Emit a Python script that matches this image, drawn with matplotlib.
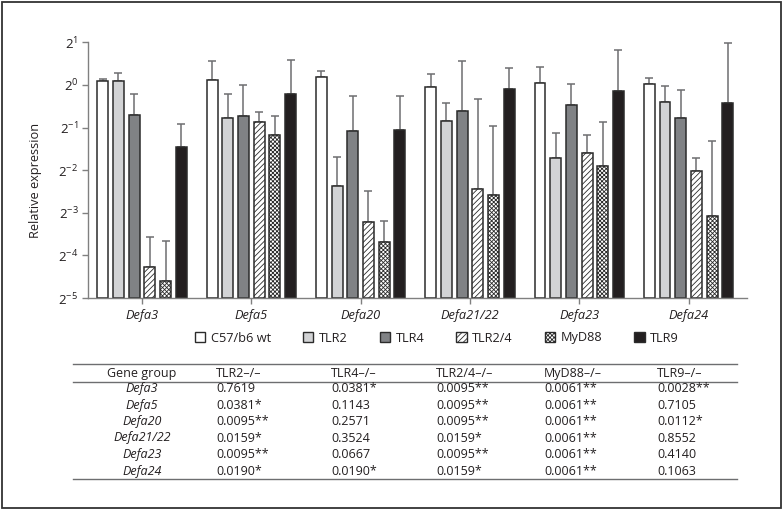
import numpy as np
import matplotlib
matplotlib.use("Agg")
import matplotlib.pyplot as plt
from matplotlib.patches import Rectangle
from matplotlib.lines import Line2D
from matplotlib.ticker import NullLocator

plt.rcParams["font.family"] = ["Open Sans", "DejaVu Sans"]
plt.rcParams["mathtext.fontset"] = "custom"
plt.rcParams["mathtext.rm"] = "Open Sans"
plt.rcParams["mathtext.it"] = "Open Sans:italic"
plt.rcParams["hatch.linewidth"] = 0.6

# data (relative expression)
genes = ["Defa3", "Defa5", "Defa20", "Defa21/22", "Defa23", "Defa24"]
strains = ["C57/b6 wt", "TLR2", "TLR4", "TLR2/4", "MyD88", "TLR9"]

wt_mean = [1.064, 1.083, 1.137, 0.966, 1.028, 1.007]
tlr2_mean = [1.064, 0.586, 0.193, 0.559, 0.306, 0.763]
tlr4_mean = [0.616, 0.607, 0.476, 0.651, 0.717, 0.586]
tlr24_mean = [0.0519, 0.543, 0.107, 0.184, 0.330, 0.247]
myd88_mean = [0.0415, 0.441, 0.078, 0.166, 0.266, 0.119]
tlr9_mean = [0.364, 0.865, 0.480, 0.933, 0.908, 0.742]

# top of the error bars
wt_upper = [1.094, 1.464, 1.257, 1.197, 1.329, 1.125]
tlr2_upper = [1.206, 0.858, 0.310, 0.747, 0.460, 0.979]
tlr4_upper = [0.858, 0.993, 0.829, 1.464, 1.007, 0.914]
tlr24_upper = [0.0836, 0.642, 0.179, 0.790, 0.444, 0.304]
myd88_upper = [0.0786, 0.607, 0.109, 0.514, 0.543, 0.401]
tlr9_upper = [0.532, 1.495, 0.829, 1.310, 1.778, 1.986]

ytick_powers = [1, 0, -1, -2, -3, -4, -5]

# p-value table
table_header = ["TLR2–/–", "TLR4–/–", "TLR2/4–/–", "MyD88–/–", "TLR9–/–"]
p_tlr2 = ["0.7619", "0.0381*", "0.0095**", "0.0159*", "0.0095**", "0.0190*"]
p_tlr4 = ["0.0381*", "0.1143", "0.2571", "0.3524", "0.0667", "0.0190*"]
p_tlr24 = ["0.0095**", "0.0095**", "0.0095**", "0.0159*", "0.0095**", "0.0159*"]
p_myd88 = ["0.0061**", "0.0061**", "0.0061**", "0.0061**", "0.0061**", "0.0061**"]
p_tlr9 = ["0.0028**", "0.7105", "0.0112*", "0.8552", "0.4140", "0.1063"]

means = [wt_mean, tlr2_mean, tlr4_mean, tlr24_mean, myd88_mean, tlr9_mean]
uppers = [wt_upper, tlr2_upper, tlr4_upper, tlr24_upper, myd88_upper, tlr9_upper]
p_cols = [p_tlr2, p_tlr4, p_tlr24, p_myd88, p_tlr9]

TEXT = "#231f20"
EDGE = "#2b2b2b"
facecolors = ["white", "#d2d3d5", "#808285", "white", "white", "#231f20"]
hatches = [None, None, None, "//////", "xxxxxxxx", None]

W, H = 783, 511
fig = plt.figure(figsize=(W / 100, H / 100), dpi=100)
ax = fig.add_axes([88 / W, 1 - 298 / H, 659 / W, 255.7 / H])

floor = 2.0 ** -5
x = np.arange(len(genes))
step = 0.1436
for i in range(len(strains)):
    pos = x + (i - 2.5) * step
    m = np.array(means[i])
    u = np.array(uppers[i])
    ax.bar(pos, m - floor, bottom=floor, width=0.1, color=facecolors[i],
           edgecolor=EDGE, linewidth=1.1, hatch=hatches[i], zorder=2)
    ax.errorbar(pos, m, yerr=[np.zeros(len(m)), u - m], fmt="none",
                ecolor="#6d6e70", elinewidth=1.1, capsize=2.8, capthick=1.1,
                zorder=1)

ax.set_yscale("log", base=2)
ax.set_ylim(2.0 ** -5, 2.0 ** 1)
ax.set_yticks([2.0 ** k for k in ytick_powers])
ax.set_yticklabels([f"$2^{{{k}}}$" for k in ytick_powers])
ax.yaxis.set_minor_locator(NullLocator())
ax.set_xlim(-0.494, 5.535)
ax.set_xticks(x)
ax.set_xticklabels(genes, fontstyle="italic")

for side in ["top", "right"]:
    ax.spines[side].set_visible(False)
for side in ["left", "bottom"]:
    ax.spines[side].set_color("#808080")
    ax.spines[side].set_linewidth(1.0)
ax.tick_params(axis="y", length=4, width=1, color="#808080", pad=3,
               labelsize=9.5, labelcolor=TEXT)
ax.tick_params(axis="x", length=4, width=1, color="#808080", pad=4,
               labelsize=9.2, labelcolor=TEXT)
ax.set_ylabel("Relative expression", fontsize=9.2, color=TEXT)
ax.yaxis.set_label_coords(-0.07, 0.46)

# legend
handles = [Rectangle((0, 0), 1, 1, facecolor=facecolors[i], edgecolor=EDGE,
                     linewidth=1.0, hatch=hatches[i]) for i in range(len(strains))]
fig.legend(handles, strains, loc="center", bbox_to_anchor=(437 / W, 1 - 338 / H),
           ncol=6, frameon=False, handlelength=0.8, handleheight=0.8,
           handletextpad=0.45, columnspacing=2.5, fontsize=9.2,
           labelcolor=TEXT)

# table
line_kw = dict(transform=fig.transFigure, color="#6d6e70", linewidth=1.0)
for yy in [364, 382, 479]:
    fig.add_artist(Line2D([73 / W, 737 / W], [1 - yy / H] * 2, **line_kw))

col_x = [216, 331, 436, 544, 657]
fs = 9
fig.text(142 / W, 1 - 373 / H, "Gene group", ha="center", va="center",
         fontsize=fs, color=TEXT)
for j, head in enumerate(table_header):
    fig.text(col_x[j] / W, 1 - 373 / H, head, ha="left", va="center",
             fontsize=fs, color=TEXT)
for r, g in enumerate(genes):
    yy = 1 - (388.5 + 16.5 * r) / H
    fig.text(142 / W, yy, g, ha="center", va="center", fontsize=fs,
             fontstyle="italic", color=TEXT)
    for j, col in enumerate(p_cols):
        fig.text(col_x[j] / W, yy, col[r], ha="left", va="center",
                 fontsize=fs, color=TEXT)

# outer frame
fig.add_artist(Rectangle((0.002, 0.005), 0.9955, 0.9917, transform=fig.transFigure,
                         fill=False, edgecolor="#333333", linewidth=1.3))

fig.savefig("out.png", dpi=100)
